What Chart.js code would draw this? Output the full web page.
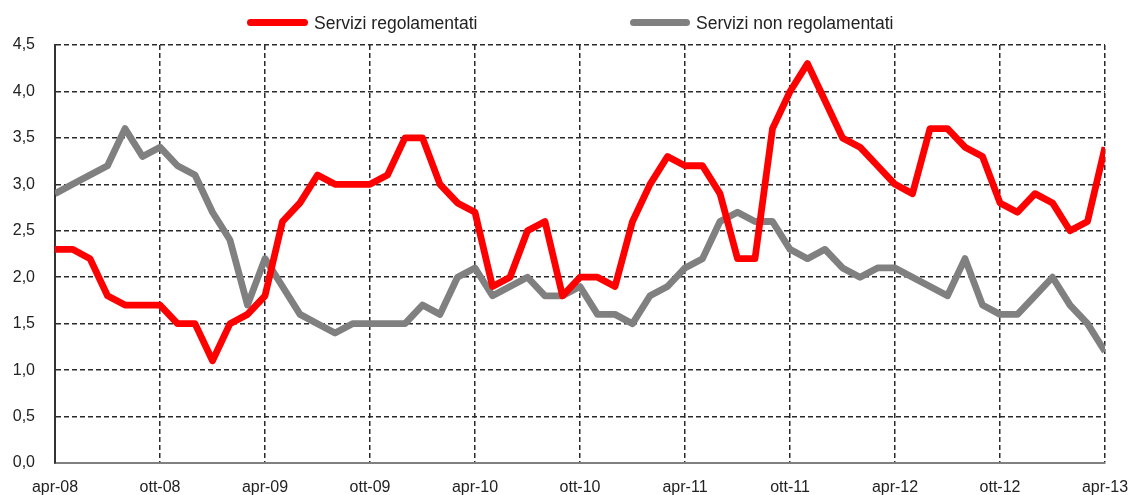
<!DOCTYPE html>
<html>
<head>
<meta charset="utf-8">
<script src="https://cdn.jsdelivr.net/npm/chart.js@4.4.1/dist/chart.umd.min.js"></script>
<style>
html,body{margin:0;padding:0;background:#fff;}
#wrap{position:relative;width:1131px;height:495px;overflow:hidden;}
#c{position:absolute;left:0;top:0;}
.legtxt{position:absolute;font-family:"Liberation Sans",Arial,sans-serif;font-size:17.5px;line-height:20px;color:#222;white-space:nowrap;}
.sw{position:absolute;height:7px;border-radius:3.5px;}
</style>
</head>
<body>
<div id="wrap">
  <canvas id="c" width="1131" height="495"></canvas>
  <div id="legend"></div>
</div>
<script>
// ---- data ----
const monthAbbr = ['gen','feb','mar','apr','mag','giu','lug','ago','set','ott','nov','dic'];
const categories = [];
for (let y = 2008, m = 3; y < 2013 || (y === 2013 && m <= 3); ) {
  categories.push(monthAbbr[m] + '-' + String(y).slice(2));
  m++; if (m === 12) { m = 0; y++; }
}
const tickLabels = ['apr-08','ott-08','apr-09','ott-09','apr-10','ott-10','apr-11','ott-11','apr-12','ott-12','apr-13'];
const seriesNames = ['Servizi regolamentati', 'Servizi non regolamentati'];
const regolamentati = [
  2.3,2.3,2.2,1.8,1.7,1.7,1.7,1.5,1.5,1.1,1.5,1.6,
  1.8,2.6,2.8,3.1,3.0,3.0,3.0,3.1,3.5,3.5,3.0,2.8,
  2.7,1.9,2.0,2.5,2.6,1.8,2.0,2.0,1.9,2.6,3.0,3.3,
  3.2,3.2,2.9,2.2,2.2,3.6,4.0,4.3,3.9,3.5,3.4,3.2,
  3.0,2.9,3.6,3.6,3.4,3.3,2.8,2.7,2.9,2.8,2.5,2.6,
  3.4
];
const nonRegolamentati = [
  2.9,3.0,3.1,3.2,3.6,3.3,3.4,3.2,3.1,2.7,2.4,1.7,
  2.2,1.9,1.6,1.5,1.4,1.5,1.5,1.5,1.5,1.7,1.6,2.0,
  2.1,1.8,1.9,2.0,1.8,1.8,1.9,1.6,1.6,1.5,1.8,1.9,
  2.1,2.2,2.6,2.7,2.6,2.6,2.3,2.2,2.3,2.1,2.0,2.1,
  2.1,2.0,1.9,1.8,2.2,1.7,1.6,1.6,1.8,2.0,1.7,1.5,
  1.2
];
const seriesColors = ['#ff0000', '#808080'];

// ---- legend (HTML) ----
const legendPos = [{sw: 247, swW: 61, txt: 314}, {sw: 630, swW: 60, txt: 696}];
const legendEl = document.getElementById('legend');
seriesNames.forEach((name, i) => {
  const s = document.createElement('div');
  s.className = 'sw';
  s.style.left = legendPos[i].sw + 'px';
  s.style.top = '18.5px';
  s.style.width = legendPos[i].swW + 'px';
  s.style.background = seriesColors[i];
  legendEl.appendChild(s);
  const t = document.createElement('div');
  t.className = 'legtxt';
  t.style.left = legendPos[i].txt + 'px';
  t.style.top = '13px';
  t.textContent = name;
  legendEl.appendChild(t);
});

// ---- chart ----
const toPoints = arr => arr.map((v, i) => ({x: i, y: v}));
const tickFont = {family: '"Liberation Sans", Arial, sans-serif', size: 16};
new Chart(document.getElementById('c'), {
  type: 'line',
  data: {
    labels: categories,
    datasets: [
      {label: seriesNames[0], data: toPoints(regolamentati), borderColor: seriesColors[0], backgroundColor: seriesColors[0],
       borderWidth: 6.8, pointRadius: 0, tension: 0, borderJoinStyle: 'round', fill: false},
      {label: seriesNames[1], data: toPoints(nonRegolamentati), borderColor: seriesColors[1], backgroundColor: seriesColors[1],
       borderWidth: 6.8, pointRadius: 0, tension: 0, borderJoinStyle: 'round', fill: false}
    ]
  },
  options: {
    responsive: false,
    animation: false,
    layout: {padding: {left: 0, right: 26, top: 45, bottom: 0}},
    plugins: {legend: {display: false}, tooltip: {enabled: false}},
    scales: {
      x: {
        type: 'linear',
        min: 0, max: categories.length - 1,
        afterFit: s => { s.height = 32; s.paddingLeft = 0; s.paddingRight = 0; },
        grid: {color: '#2a2a2a', lineWidth: 1.5, drawTicks: false},
        border: {display: true, color: '#808080', width: 2, dash: [5, 3]},
        ticks: {
          stepSize: 6, autoSkip: false, maxRotation: 0, minRotation: 0, padding: 15,
          color: '#222222', font: tickFont,
          callback: v => (tickLabels.includes(categories[v]) ? categories[v] : null)
        }
      },
      y: {
        min: 0, max: 4.5,
        afterFit: s => { s.width = 55; },
        grid: {color: '#2a2a2a', lineWidth: 1.5, drawTicks: false},
        border: {display: true, color: '#333333', width: 2, dash: [5, 3]},
        ticks: {
          stepSize: 0.5, padding: 20, color: '#222222', font: tickFont,
          callback: v => v.toFixed(1).replace('.', ',')
        }
      }
    }
  }
});
</script>
</body>
</html>
